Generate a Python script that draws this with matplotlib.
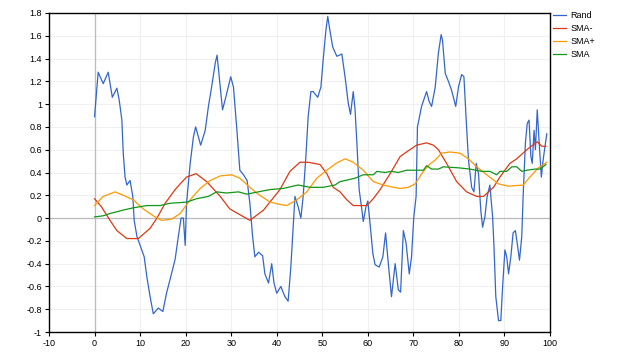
import matplotlib
matplotlib.use('Agg')
import matplotlib.pyplot as plt

# values
rand_x = [0, 0.8, 1.9, 3.0, 3.9, 4.9, 5.4, 6.0, 6.3, 6.7, 7.1, 7.8, 8.4, 8.7, 9.3,
          10.1, 10.9, 11.5, 12.2, 12.9, 14.0, 15.0, 15.8, 16.7, 17.7, 18.4, 19.0,
          19.5, 19.9, 20.2, 21.0, 21.7, 22.2, 23.3, 24.3, 25.0, 25.7, 26.5, 26.9,
          27.6, 28.1, 29.0, 29.9, 30.5, 31.2, 31.9, 32.7, 33.5, 34.1, 34.7, 35.2,
          36.0, 36.9, 37.4, 38.2, 38.9, 39.4, 40.0, 40.9, 41.8, 42.5, 43.1, 43.5,
          44.0, 44.7, 45.3, 45.8, 46.4, 46.9, 47.5, 48.0, 49.0, 49.7, 50.2, 50.8,
          51.2, 51.7, 52.3, 53.2, 54.3, 55.0, 55.7, 56.2, 56.8, 57.2, 57.6, 58.1,
          58.7, 59.0, 59.6, 60.0, 60.5, 61.1, 61.6, 62.5, 63.3, 63.9, 64.5, 65.2,
          66.0, 66.7, 67.2, 67.8, 68.4, 69.1, 69.6, 70.1, 70.6, 70.9, 71.8, 72.9,
          73.5, 74.0, 74.8, 75.5, 76.1, 76.4, 77.0, 77.7, 78.4, 79.3, 79.9, 80.6,
          81.1, 81.6, 82.1, 82.8, 83.3, 83.8, 84.3, 84.8, 85.2, 85.7, 86.2, 86.8,
          87.4, 87.7, 88.1, 88.7, 89.2, 89.6, 90.1, 90.5, 90.9, 91.4, 91.9, 92.4,
          92.8, 93.3, 93.8, 94.1, 94.6, 95.0, 95.4, 95.8, 96.1, 96.5, 96.8, 97.2,
          97.6, 98.1, 98.4, 98.8, 99.3]
rand_y = [0.89, 1.28, 1.18, 1.28, 1.06, 1.14, 1.04, 0.86, 0.57, 0.36, 0.29, 0.33,
          0.19, -0.02, -0.16, -0.25, -0.34, -0.52, -0.69, -0.84, -0.79, -0.82,
          -0.66, -0.52, -0.36, -0.16, 0.0, 0.0, -0.24, 0.13, 0.48, 0.71, 0.80,
          0.64, 0.77, 0.98, 1.15, 1.36, 1.43, 1.15, 0.95, 1.09, 1.24, 1.15, 0.80,
          0.42, 0.38, 0.33, 0.13, -0.16, -0.34, -0.30, -0.33, -0.49, -0.57, -0.40,
          -0.57, -0.66, -0.60, -0.69, -0.73, -0.43, -0.16, 0.19, 0.10, 0.0, 0.19,
          0.54, 0.89, 1.11, 1.11, 1.06, 1.15, 1.39, 1.65, 1.77, 1.64, 1.50, 1.42,
          1.44, 1.24, 1.01, 0.91, 1.11, 0.95, 0.66, 0.25, 0.07, -0.03, 0.10, 0.15,
          -0.05, -0.31, -0.41, -0.43, -0.34, -0.13, -0.40, -0.69, -0.40, -0.63,
          -0.65, -0.11, -0.22, -0.49, -0.34, 0.01, 0.19, 0.80, 0.98, 1.11, 1.02,
          0.98, 1.15, 1.45, 1.61, 1.56, 1.27, 1.20, 1.12, 0.98, 1.15, 1.26, 1.24,
          0.86, 0.51, 0.27, 0.23, 0.48, 0.39, 0.07, -0.08, 0.01, 0.19, 0.29, 0.01,
          -0.25, -0.69, -0.90, -0.90, -0.60, -0.28, -0.34, -0.49, -0.34, -0.13,
          -0.11, -0.22, -0.37, -0.16, 0.19, 0.66, 0.83, 0.86, 0.54, 0.48, 0.77,
          0.60, 0.95, 0.68, 0.36, 0.48, 0.60, 0.74]

sma_minus_x = [0, 1.5, 3.4, 4.9, 7.1, 9.6, 12.2, 13.7, 15.5, 17.7, 18.8, 20.2, 22.3,
               24.6, 27.6, 29.7, 31.9, 34.1, 37.1, 38.5, 40.7, 42.9, 45.1, 46.9,
               49.5, 51.0, 52.4, 53.9, 55.4, 56.8, 59.8, 61.2, 62.7, 64.9, 67.1,
               68.5, 70.7, 72.9, 74.4, 75.5, 77.3, 79.5, 81.7, 83.9, 85.4, 87.6,
               89.0, 91.2, 92.7, 94.9, 97.2, 98.2, 99.1]
sma_minus_y = [0.17, 0.10, -0.02, -0.11, -0.18, -0.18, -0.09, 0.0, 0.13, 0.25, 0.30,
               0.36, 0.39, 0.32, 0.19, 0.08, 0.03, -0.02, 0.07, 0.14, 0.25, 0.41,
               0.49, 0.49, 0.47, 0.39, 0.27, 0.23, 0.16, 0.11, 0.11, 0.17, 0.25,
               0.39, 0.54, 0.58, 0.64, 0.66, 0.64, 0.60, 0.48, 0.32, 0.23, 0.19,
               0.19, 0.27, 0.36, 0.48, 0.52, 0.60, 0.67, 0.63, 0.63]

sma_plus_x = [0, 1.9, 4.5, 6.3, 8.5, 10.7, 12.9, 14.7, 16.9, 18.8, 21.0, 23.2, 25.4,
              27.6, 30.1, 31.9, 34.1, 35.6, 38.5, 40.7, 42.2, 44.4, 46.6, 48.8,
              51.0, 53.0, 55.0, 56.8, 59.0, 61.2, 63.4, 65.6, 67.1, 68.9, 70.4,
              72.0, 73.5, 74.8, 76.2, 78.0, 80.2, 82.1, 83.9, 86.1, 88.7, 90.8,
              94.1, 95.6, 97.4, 99.3]
sma_plus_y = [0.11, 0.19, 0.23, 0.20, 0.16, 0.08, 0.02, -0.02, -0.01, 0.04, 0.16,
              0.26, 0.33, 0.37, 0.38, 0.35, 0.27, 0.22, 0.14, 0.12, 0.11, 0.16,
              0.23, 0.35, 0.42, 0.48, 0.52, 0.49, 0.42, 0.32, 0.29, 0.27, 0.26,
              0.27, 0.30, 0.40, 0.47, 0.51, 0.57, 0.58, 0.57, 0.52, 0.45, 0.38,
              0.30, 0.28, 0.29, 0.36, 0.44, 0.49]

sma_x = [0, 1.9, 3.4, 6.3, 8.5, 11.5, 14.4, 16.6, 20.2, 22.4, 25.0, 26.8, 29.0,
         31.6, 33.4, 38.5, 41.4, 44.7, 47.3, 50.2, 52.8, 53.9, 57.2, 59.0, 61.2,
         62.0, 63.8, 65.2, 66.7, 68.5, 72.2, 72.9, 74.0, 75.5, 76.6, 80.2, 82.4,
         85.0, 86.8, 88.3, 89.0, 90.5, 91.6, 92.7, 93.8, 94.9, 96.7, 97.8, 99.1]
sma_y = [0.01, 0.02, 0.04, 0.07, 0.09, 0.11, 0.11, 0.13, 0.14, 0.17, 0.19, 0.23,
         0.22, 0.23, 0.21, 0.25, 0.26, 0.29, 0.27, 0.27, 0.29, 0.32, 0.35, 0.38,
         0.38, 0.41, 0.40, 0.41, 0.40, 0.42, 0.42, 0.46, 0.43, 0.43, 0.45, 0.44,
         0.43, 0.41, 0.41, 0.38, 0.41, 0.41, 0.45, 0.45, 0.41, 0.42, 0.43, 0.43,
         0.47]

x_ticks = list(range(-10, 101, 10))
y_ticks = [-1, -0.8, -0.6, -0.4, -0.2, 0, 0.2, 0.4, 0.6, 0.8, 1, 1.2, 1.4, 1.6, 1.8]

plt.rcParams['font.family'] = ['Liberation Sans', 'DejaVu Sans']
plt.rcParams['axes.unicode_minus'] = False

fig = plt.figure(figsize=(6.4, 3.6), dpi=100)
ax = fig.add_axes([49 / 640, 28 / 360, 501 / 640, 319 / 360])

ax.plot(rand_x, rand_y, color='#3366cc', lw=0.9, label='Rand')
ax.plot(sma_minus_x, sma_minus_y, color='#dc3912', lw=0.9, label='SMA-')
ax.plot(sma_plus_x, sma_plus_y, color='#ff9900', lw=0.9, label='SMA+')
ax.plot(sma_x, sma_y, color='#109618', lw=0.9, label='SMA')

ax.set_xlim(-10, 100)
ax.set_ylim(-1, 1.8)
ax.set_xticks(x_ticks)
ax.set_yticks(y_ticks)
ax.set_yticklabels(['%g' % v for v in y_ticks])

ax.grid(True, color='#f0f0f0', lw=0.8)
ax.set_axisbelow(True)
ax.axhline(0, color='#bbbbbb', lw=0.9, zorder=1)
ax.axvline(0, color='#bbbbbb', lw=0.9, zorder=1)

ax.tick_params(labelsize=6.5, length=3, width=0.8, colors='black', pad=2)
for s in ax.spines.values():
    s.set_linewidth(1.0)

fig.legend(loc='upper left', bbox_to_anchor=(553 / 640, 1 - 11 / 360),
           frameon=False, fontsize=6.5, handlelength=1.4, handletextpad=0.5,
           labelspacing=0.45, borderpad=0, borderaxespad=0)

fig.savefig('out.png', dpi=100)
